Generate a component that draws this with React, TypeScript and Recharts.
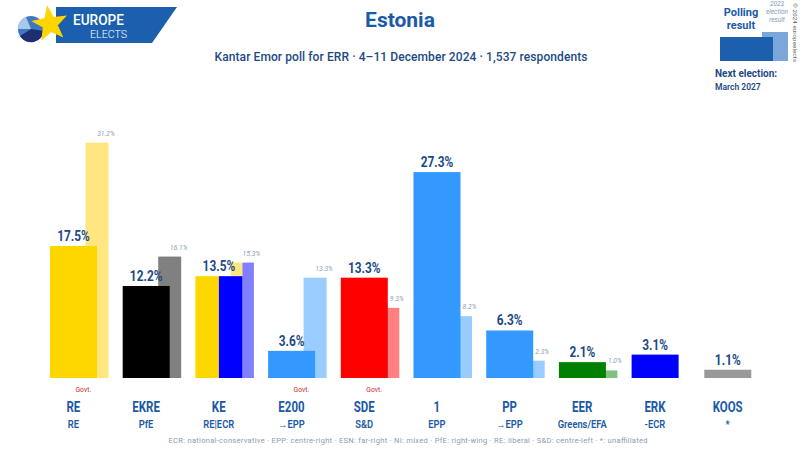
import React from 'react';
import { BarChart, Bar, XAxis, YAxis, LabelList } from 'recharts';

const parties = ['RE', 'EKRE', 'KE', 'E200', 'SDE', '1', 'PP', 'EER', 'ERK', 'KOOS'];
const groups = ['RE', 'PfE', 'RE|ECR', '→EPP', 'S&D', 'EPP', '→EPP', 'Greens/EFA', '-ECR', '*'];
const poll = [17.5, 12.2, 13.5, 3.6, 13.3, 27.3, 6.3, 2.1, 3.1, 1.1];
const election = [31.2, 16.1, 15.3, 13.3, 9.3, 8.2, 2.3, 1.0, null, null];
const govt = [true, false, false, true, true, false, false, false, false, false];

const pollColors = [
  ['#FFD700'], ['#000000'], ['#FFD700', '#0000FF'], ['#3399FF'], ['#FF0000'],
  ['#3399FF'], ['#3399FF'], ['#008000'], ['#0000FF'], ['#999999'],
];
const electionColors = [
  ['#FFE680'], ['#808080'], ['#FFE680', '#8080FF'], ['#99CCFF'], ['#FF8080'],
  ['#99CCFF'], ['#99CCFF'], ['#80C080'], [], [],
];

const data = parties.map((p, i) => ({ party: p, poll: poll[i], election: election[i], idx: i }));

const FONT = 'Roboto, sans-serif';
const ELEC_SHIFT = 23.5;
const BLUE = '#1b5aa6';
const NAVY = '#1c4a86';

// condensed text: horizontally scaled around its anchor point
function CText(props: any) {
  const { x, y, sx = 0.82, children, ...rest } = props;
  return (
    <text transform={`translate(${x},${y}) scale(${sx},1)`} x={0} y={0} textAnchor="middle" fontFamily={FONT} {...rest}>
      {children}
    </text>
  );
}

function PollShape(props: any) {
  const { x, y, width, height, payload } = props;
  if (payload == null || payload.poll == null) return null;
  const cols = pollColors[payload.idx];
  const w = width / cols.length;
  return (
    <g>
      {cols.map((c, k) => (
        <rect key={k} x={x + k * w} y={y} width={w} height={height} fill={c} />
      ))}
    </g>
  );
}

function ElectionShape(props: any) {
  const { x, y, width, height, payload } = props;
  if (payload == null || payload.election == null) return null;
  const cols = electionColors[payload.idx];
  const w = width / cols.length;
  return (
    <g>
      {cols.map((c, k) => (
        <rect key={k} x={x + ELEC_SHIFT + k * w} y={y} width={w} height={height} fill={c} />
      ))}
    </g>
  );
}

function PollLabel(props: any) {
  const { x, y, width, value } = props;
  if (value == null) return null;
  return (
    <CText x={x + width / 2} y={y - 5} fontWeight={700} fontSize={14.5} fill={NAVY}>
      {Number(value).toFixed(1)}%
    </CText>
  );
}

function ElectionLabel(props: any) {
  const { x, y, width, value } = props;
  if (value == null) return null;
  return (
    <CText x={x + width / 2 + ELEC_SHIFT + 9} y={y - 7} sx={0.85} fontStyle="italic" fontSize={8} fill="#8d9fb8">
      {Number(value).toFixed(1)}%
    </CText>
  );
}

function PartyTick(props: any) {
  const { x, y, payload } = props;
  const i = payload.index;
  const base = y - 29;
  return (
    <g>
      {govt[i] && (
        <CText x={x + 10} y={base + 5} sx={0.85} fontSize={8} fill="#d42a2a">
          Govt.
        </CText>
      )}
      <CText x={x} y={base + 25} fontWeight={700} fontSize={14} fill={BLUE}>
        {parties[i]}
      </CText>
      <CText x={x} y={base + 40.5} sx={0.85} fontWeight={600} fontSize={11} fill={BLUE}>
        {groups[i]}
      </CText>
    </g>
  );
}

function starPoints(cx: number, cy: number, ro: number, ri: number, rot: number) {
  const pts: string[] = [];
  for (let k = 0; k < 10; k++) {
    const r = k % 2 === 0 ? ro : ri;
    const a = rot + (k * Math.PI) / 5;
    pts.push(`${cx + r * Math.sin(a)},${cy - r * Math.cos(a)}`);
  }
  return pts.join(' ');
}

function Decorations() {
  return (
    <svg width={800} height={450} style={{ position: 'absolute', left: 0, top: 0, pointerEvents: 'none' }}>
      {/* logo */}
      <polygon points="56,7 177,7 152,43 56,43" fill="#1b5fae" />
      <circle cx={31} cy={29} r={13} fill="#3f78bf" />
      <path d="M31,29 L18,29 A13,13 0 0,1 26,17 Z" fill="#a8c8ea" />
      <path d="M31,29 L44,31 A13,13 0 0,1 20,36 Z" fill="#1d2f70" />
      <polygon points={starPoints(50, 24, 19, 8, -0.15)} fill="#FFD500" />
      <text x={73} y={25} fontFamily={FONT} fontWeight={500} fontSize={15} fill="#fff" textLength={51} lengthAdjust="spacingAndGlyphs">EUROPE</text>
      <text x={90} y={38} fontFamily={FONT} fontWeight={300} fontSize={11} fill="#fff" textLength={37} lengthAdjust="spacingAndGlyphs">ELECTS</text>

      {/* title */}
      <text x={400} y={27} textAnchor="middle" fontFamily={FONT} fontWeight={700} fontSize={21} fill={BLUE}>Estonia</text>
      <text x={401} y={61} textAnchor="middle" fontFamily={FONT} fontWeight={500} fontSize={12} fill={NAVY} textLength={373}>
        Kantar Emor poll for ERR · 4–11 December 2024 · 1,537 respondents
      </text>

      {/* legend */}
      <text x={741} y={16} textAnchor="middle" fontFamily={FONT} fontWeight={700} fontSize={11} fill={BLUE}>Polling</text>
      <text x={741} y={29} textAnchor="middle" fontFamily={FONT} fontWeight={700} fontSize={11} fill={BLUE}>result</text>
      <text x={777} y={6} textAnchor="middle" fontFamily={FONT} fontStyle="italic" fontSize={6.5} fill="#7f9cc0">2023</text>
      <text x={777} y={14} textAnchor="middle" fontFamily={FONT} fontStyle="italic" fontSize={6.5} fill="#7f9cc0">election</text>
      <text x={777} y={22} textAnchor="middle" fontFamily={FONT} fontStyle="italic" fontSize={6.5} fill="#7f9cc0">result</text>
      <rect x={762} y={32} width={26} height={29} fill="#7ba6d9" />
      <rect x={720} y={37} width={53} height={24} fill="#1b5fae" />
      <text x={715} y={77} fontFamily={FONT} fontWeight={700} fontSize={10} fill={NAVY}>Next election:</text>
      <text x={715} y={90} fontFamily={FONT} fontWeight={600} fontSize={8.5} fill={NAVY}>March 2027</text>
      <text x={793} y={3} transform="rotate(90 793 3)" fontFamily={FONT} fontSize={6} fill="#666" textLength={59}>© 2024 europeelects</text>

      {/* footer */}
      <text x={408} y={443} textAnchor="middle" fontFamily={FONT} fontSize={7.5} fill="#8a9bb2" textLength={479}>
        ECR: national-conservative · EPP: centre-right · ESN: far-right · NI: mixed · PfE: right-wing · RE: liberal · S&amp;D: centre-left · *: unaffiliated
      </text>
    </svg>
  );
}

export default function App() {
  return (
    <div style={{ position: 'absolute', left: 0, top: 0, width: 800, height: 450, background: '#fff' }}>
      <BarChart width={800} height={450} data={data} margin={{ top: 114, right: 36, bottom: 12, left: 37 }} barCategoryGap={0}>
        <XAxis xAxisId="e" dataKey="party" hide />
        <XAxis
          xAxisId="m"
          dataKey="party"
          axisLine={false}
          tickLine={false}
          height={60}
          interval={0}
          tick={<PartyTick />}
        />
        <YAxis hide domain={[0, 35]} />
        <Bar xAxisId="e" dataKey="election" barSize={23} shape={<ElectionShape />} isAnimationActive={false}>
          <LabelList dataKey="election" content={<ElectionLabel />} />
        </Bar>
        <Bar xAxisId="m" dataKey="poll" barSize={47} shape={<PollShape />} isAnimationActive={false}>
          <LabelList dataKey="poll" content={<PollLabel />} />
        </Bar>
      </BarChart>
      <Decorations />
    </div>
  );
}
